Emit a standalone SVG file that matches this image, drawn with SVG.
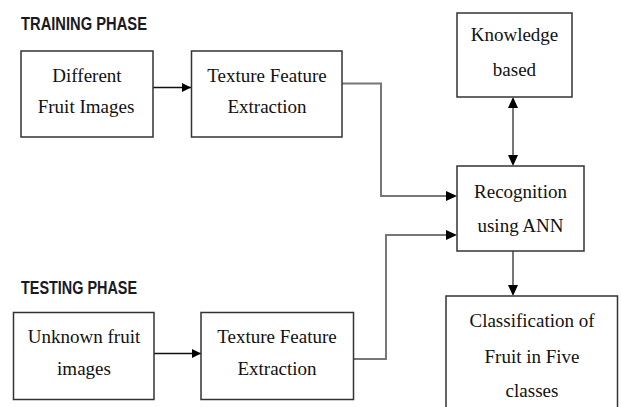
<svg xmlns="http://www.w3.org/2000/svg" width="621" height="407" viewBox="0 0 621 407">
<style>
.box{fill:#fff;stroke:#333;stroke-width:1.5}
.t{font-family:"Liberation Serif","Times New Roman",serif;font-size:19px;fill:#111;text-anchor:middle}
.h{font-family:"Liberation Sans",Arial,sans-serif;font-weight:bold;font-size:18px;fill:#1a1a24}
.c{fill:none;stroke:#777;stroke-width:2}
.a{fill:none;stroke:#111;stroke-width:1.5}
</style>
<defs>
<marker id="ah" viewBox="0 0 10 10" refX="10" refY="5" markerWidth="10" markerHeight="9" markerUnits="userSpaceOnUse" orient="auto-start-reverse">
<path d="M0,0 L10,5 L0,10 Z" fill="#000"/>
</marker>
</defs>
<rect width="621" height="407" fill="#fff"/>
<text class="h" x="21" y="29.5" textLength="126" lengthAdjust="spacingAndGlyphs">TRAINING PHASE</text>
<text class="h" x="21" y="294" textLength="116" lengthAdjust="spacingAndGlyphs">TESTING PHASE</text>
<g id="connectors">
<line class="a" x1="153" y1="87.5" x2="191" y2="87.5" marker-end="url(#ah)"/>
<line class="a" x1="154" y1="353.5" x2="201" y2="353.5" marker-end="url(#ah)"/>
<path class="c" d="M342,83.5 H381 V196 H448"/>
<path d="M446,191 L457,196 L446,201 Z" fill="#000"/>
<path class="c" d="M353,359 H386 V235 H448"/>
<path d="M446,230 L457,235 L446,240 Z" fill="#000"/>
<line class="c" x1="513" y1="106" x2="513" y2="157"/>
<path d="M508,108 L513,97 L518,108 Z" fill="#000"/>
<path d="M508,155 L513,166 L518,155 Z" fill="#000"/>
<line class="c" x1="513" y1="251" x2="513" y2="287"/>
<path d="M508,285 L513,296 L518,285 Z" fill="#000"/>
</g>
<g id="different">
<rect class="box" x="21" y="51" width="132" height="86"/>
<text class="t" x="87" y="82">Different</text>
<text class="t" x="86" y="113">Fruit Images</text>
</g>
<g id="texture1">
<rect class="box" x="191.5" y="51" width="150.5" height="86"/>
<text class="t" x="267" y="82">Texture Feature</text>
<text class="t" x="267" y="113">Extraction</text>
</g>
<g id="knowledge">
<rect class="box" x="457" y="13" width="115" height="84"/>
<text class="t" x="514.5" y="41">Knowledge</text>
<text class="t" x="514.5" y="76">based</text>
</g>
<g id="recognition">
<rect class="box" x="457" y="166" width="127" height="85"/>
<text class="t" x="520.5" y="198">Recognition</text>
<text class="t" x="520.5" y="232">using ANN</text>
</g>
<g id="classification">
<rect class="box" x="446" y="296" width="171.5" height="120"/>
<text class="t" x="532" y="327">Classification of</text>
<text class="t" x="532" y="363">Fruit in Five</text>
<text class="t" x="532" y="397">classes</text>
</g>
<g id="unknown">
<rect class="box" x="13.5" y="312.5" width="140.5" height="87"/>
<text class="t" x="84" y="343">Unknown fruit</text>
<text class="t" x="84" y="375">images</text>
</g>
<g id="texture2">
<rect class="box" x="201" y="312.5" width="152.5" height="87"/>
<text class="t" x="277" y="343">Texture Feature</text>
<text class="t" x="277" y="375">Extraction</text>
</g>
</svg>
